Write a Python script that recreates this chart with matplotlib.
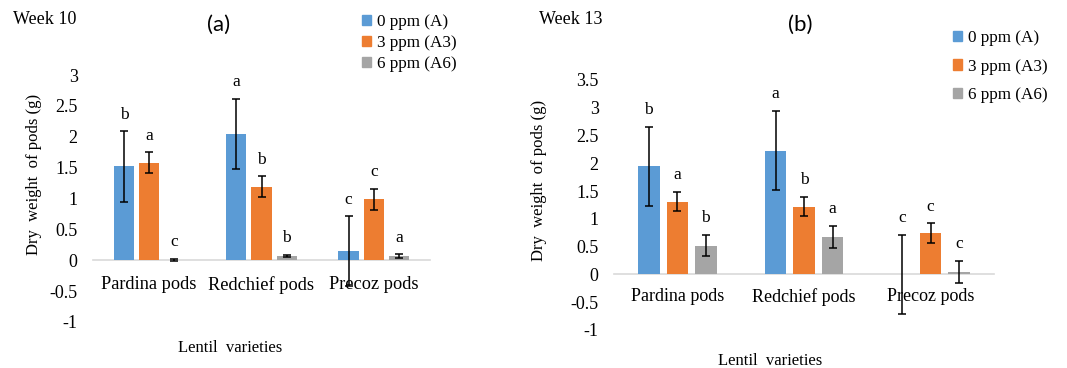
import numpy as np
import matplotlib
matplotlib.use('Agg')
import matplotlib.pyplot as plt
from matplotlib.patches import Patch
from matplotlib.ticker import FuncFormatter

plt.rcParams['font.family'] = ['Liberation Serif', 'DejaVu Serif']
plt.rcParams['axes.unicode_minus'] = False

varieties = ['Pardina pods', 'Redchief pods', 'Precoz pods']
series = ['0 ppm (A)', '3 ppm (A3)', '6 ppm (A6)']
colors = ['#5B9BD5', '#ED7D31', '#A5A5A5']

# week 10
w10_vals = [[1.52, 2.04, 0.15],
            [1.58, 1.19, 0.99],
            [0.0, 0.065, 0.065]]
w10_err = [[0.57, 0.57, 0.56],
           [0.17, 0.17, 0.17],
           [0.02, 0.02, 0.03]]
w10_letters = [['b', 'a', 'c'],
               ['a', 'b', 'c'],
               ['c', 'b', 'a']]

# week 13
w13_vals = [[1.95, 2.23, 0.0],
            [1.31, 1.22, 0.74],
            [0.52, 0.68, 0.05]]
w13_err = [[0.71, 0.71, 0.71],
           [0.175, 0.175, 0.18],
           [0.19, 0.195, 0.195]]
w13_letters = [['b', 'a', 'c'],
               ['a', 'b', 'c'],
               ['b', 'a', 'c']]

W, H = 1067, 368
fig = plt.figure(figsize=(W / 100, H / 100), dpi=100)


def px_axes(l, t, r, b):
    return fig.add_axes([l / W, 1 - b / H, (r - l) / W, (b - t) / H])


def draw(ax, vals, errs, letters, ymax, bw, xsize, xpad, lab_y, leg_anchor, leg_space):
    x = np.arange(len(varieties))
    for i in range(3):
        xs = x + (i - 1) * 0.225
        ax.bar(xs, vals[i], width=bw, color=colors[i], label=series[i], zorder=2)
        ax.errorbar(xs, vals[i], yerr=errs[i], fmt='none', ecolor='black',
                    elinewidth=1.1, capsize=2.8, capthick=1.1, zorder=3)
        for j in range(3):
            ax.annotate(letters[i][j], (xs[j], vals[i][j] + errs[i][j]),
                        xytext=(0, 12), textcoords='offset points',
                        ha='center', va='center', fontsize=12.5)
    ax.set_xlim(-0.5, 2.5)
    ax.set_ylim(-1, ymax)
    ax.set_yticks(np.arange(-1, ymax + 0.01, 0.5))
    ax.yaxis.set_major_formatter(FuncFormatter(lambda v, p: '%g' % v))
    ax.set_xticks(x)
    ax.set_xticklabels(varieties)
    for s in ['top', 'right', 'left']:
        ax.spines[s].set_visible(False)
    ax.spines['bottom'].set_position(('data', 0))
    ax.spines['bottom'].set_color('#D9D9D9')
    ax.spines['bottom'].set_linewidth(1.2)
    ax.spines['bottom'].set_zorder(1)
    ax.tick_params(axis='y', length=0, pad=11, labelsize=13)
    ax.tick_params(axis='x', length=0, pad=xpad, labelsize=xsize)
    ax.set_ylabel('Dry  weight  of pods (g)', fontsize=12)
    ax.yaxis.set_label_coords(lab_y[0], lab_y[1])
    handles = [Patch(color=c) for c in colors]
    fig.legend(handles, series, loc='upper left',
               bbox_to_anchor=(leg_anchor[0] / W, 1 - leg_anchor[1] / H),
               frameon=False, fontsize=12.3, handlelength=0.55, handleheight=0.55,
               handletextpad=0.3, borderpad=0, borderaxespad=0,
               labelspacing=leg_space)


ax1 = px_axes(93, 75, 430, 322)
draw(ax1, w10_vals, w10_err, w10_letters, 3, 0.18, 13.2, 11.5, (-0.151, 0.599), (362, 14), 0.3)
ax2 = px_axes(614, 80, 994, 330)
draw(ax2, w13_vals, w13_err, w13_letters, 3.5, 0.17, 13, 10, (-0.176, 0.6), (953, 30), 0.74)

fig.text(13 / W, 1 - 20 / H, 'Week 10', fontsize=13, va='center', ha='left')
fig.text(539 / W, 1 - 20 / H, 'Week 13', fontsize=13, va='center', ha='left')
fig.text(219 / W, 1 - 25 / H, '(a)', fontsize=16, va='center', ha='center', family='Lato')
fig.text(800 / W, 1 - 25 / H, '(b)', fontsize=16, va='center', ha='center', family='Lato')
fig.text(230 / W, 1 - 348 / H, 'Lentil  varieties', fontsize=12, va='center', ha='center')
fig.text(770 / W, 1 - 361 / H, 'Lentil  varieties', fontsize=12, va='center', ha='center')

fig.savefig('out.png', dpi=100)
